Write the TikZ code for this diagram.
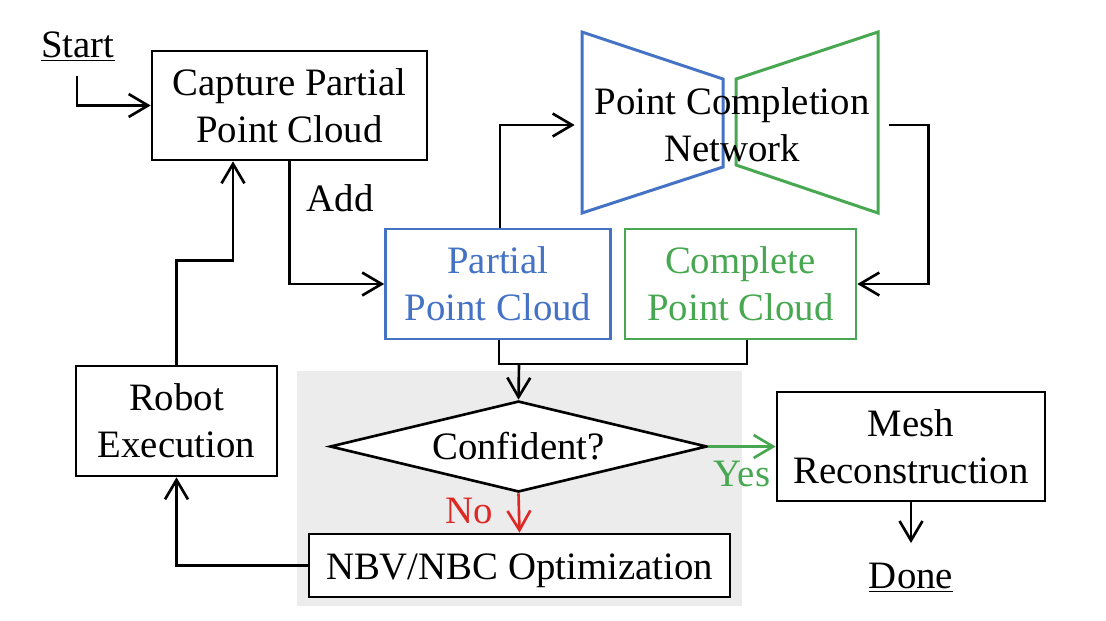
\documentclass[tikz,border=0pt]{standalone}
\usepackage{fontspec}
\setmainfont{Liberation Serif}
\usetikzlibrary{arrows.meta,shapes.geometric}
\newdimen\pxu \pxu=0.567pt
\definecolor{myblue}{RGB}{68,114,196}
\definecolor{mygreen}{RGB}{72,168,82}
\definecolor{myred}{RGB}{222,40,36}
\definecolor{shadecol}{RGB}{236,236,236}
\tikzset{
  txt/.style={font=\fontsize{22}{26.6}\selectfont, align=center, inner sep=0pt},
  box/.style={txt, draw, line width=1.5pt},
  arr/.style={line width=1.5pt, -{Straight Barb[length=11pt,width=13pt,line width=1.5pt]}},
  ln/.style={line width=1.5pt},
  trap/.style={line width=1.7pt}
}
\begin{document}
\begin{tikzpicture}[x=0.567pt,y=-0.567pt]
\useasboundingbox (0,0) rectangle (1106,620);
% shaded region
\fill[shadecol] (297,371) rectangle (742,606);

% network trapezoids
\draw[trap, myblue] (582,32) -- (723,79) -- (723,167) -- (582,213) -- cycle;
\draw[trap, mygreen] (878,32) -- (736,79) -- (736,165) -- (878,213) -- cycle;

% nodes
\node[txt] (start) at (78,47) {\underline{Start}};
\node[box, minimum width=275\pxu, minimum height=109\pxu] (capture) at (289.5,105.5) {Capture Partial\\Point Cloud};
\node[box, draw=myblue, text=myblue, minimum width=225\pxu, minimum height=110\pxu] (partial) at (498,284) {Partial\\Point Cloud};
\node[box, draw=mygreen, text=mygreen, minimum width=231\pxu, minimum height=110\pxu] (complete) at (740.5,284) {Complete\\Point Cloud};
\node[txt, minimum width=314\pxu] (net) at (732,125) {Point Completion\\Network};
\node[box, minimum width=201\pxu, minimum height=110\pxu] (robot) at (176.5,421) {Robot\\Execution};
\node[box, diamond, aspect=4.14, minimum width=377\pxu, minimum height=91\pxu, fill=white] (dec) at (518.5,446.5) {Confident?};
\node[box, minimum width=268\pxu, minimum height=109\pxu, fill=white] (mesh) at (911,446.5) {Mesh\\Reconstruction};
\node[box, minimum width=421\pxu, minimum height=63\pxu, fill=white, text height=20pt, text depth=4pt] (nbv) at (519.5,565.5) {NBV/NBC Optimization};
\node[txt] (done) at (911,578) {\underline{Done}};
\node[txt] (add) at (340,198) {Add};
\node[txt, text=mygreen] (yes) at (742,474) {Yes};
\node[txt, text=myred] (no) at (469,511) {No};

% coordinates
\coordinate (s0) at (77,76);
\coordinate (mj) at (519,364);
\coordinate (d0) at (911,543);

% connectors
\draw[arr] (s0) |- (capture.west);
\draw[arr] (capture.south) |- (partial.west);
\draw[arr] (robot.north) -- ++(0,-104) -| ([xshift=-56.5\pxu]capture.south);
\draw[arr] ([xshift=2\pxu]partial.north) |- (net.west);
\draw[arr] (net.east) -- ++(39,0) |- (complete.east);
\draw[ln] ([xshift=1\pxu]partial.south) |- (mj) -| ([xshift=6.5\pxu]complete.south);
\draw[arr] (mj) -- (dec.north);
\draw[arr, mygreen] (dec.east) -- (mesh.west);
\draw[arr, myred] (dec.south) -- (nbv.north);
\draw[arr] (nbv.west) -| (robot.south);
\draw[arr] (mesh.south) -- (d0);
\end{tikzpicture}
\end{document}
